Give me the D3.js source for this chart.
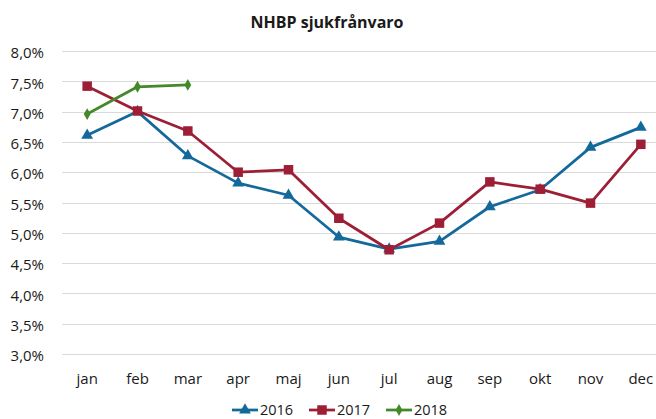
<!DOCTYPE html>
<html>
<head>
<meta charset="utf-8">
<script src="https://cdn.jsdelivr.net/npm/d3@7"></script>
<style>
body { margin: 0; background: #fff; }
text { font-family: "Open Sans", "Noto Sans", sans-serif; fill: #1a1a1a; }
</style>
</head>
<body>
<svg id="chart" width="656" height="419"></svg>
<script>
// data
const months = ["jan", "feb", "mar", "apr", "maj", "jun", "jul", "aug", "sep", "okt", "nov", "dec"];
const v2016 = [6.61, 7.00, 6.27, 5.82, 5.62, 4.93, 4.73, 4.86, 5.43, 5.71, 6.41, 6.74];
const v2017 = [7.42, 7.01, 6.68, 6.00, 6.04, 5.24, 4.72, 5.16, 5.84, 5.72, 5.49, 6.46];
const v2018 = [6.96, 7.41, 7.44];
const yTicks = [3.0, 3.5, 4.0, 4.5, 5.0, 5.5, 6.0, 6.5, 7.0, 7.5, 8.0];

const series = [
	{ name: "2016", values: v2016, color: "#14699b", marker: "triangle" },
	{ name: "2017", values: v2017, color: "#9c1f36", marker: "square" },
	{ name: "2018", values: v2018, color: "#43892a", marker: "diamond" }
];

const svg = d3.select("#chart");

const x = d3.scaleBand()
	.domain(months)
	.range([62, 666]);

const y = d3.scaleLinear()
	.domain([3, 8])
	.range([354, 51]);

// gridlines
svg.append("g")
	.selectAll("line")
	.data(yTicks)
	.enter()
	.append("line")
	.attr("x1", 62)
	.attr("x2", 666)
	.attr("y1", d => Math.round(y(d)) + 0.5)
	.attr("y2", d => Math.round(y(d)) + 0.5)
	.attr("stroke", "#d9d9d9")
	.attr("stroke-width", 1);

// y axis labels
const fmt = d => d.toFixed(1).replace(".", ",") + "%";
const yAxis = svg.append("g")
	.attr("transform", "translate(62,0)")
	.call(d3.axisLeft(y).tickValues(yTicks).tickFormat(fmt).tickSize(0).tickPadding(18));
yAxis.select(".domain").remove();
yAxis.selectAll("text")
	.attr("font-size", 15)
	.attr("dy", "0.45em")
	.style("font-family", "'Open Sans', 'Noto Sans', sans-serif")
	.attr("fill", "#1a1a1a");

// x axis labels
const xAxis = svg.append("g")
	.attr("transform", "translate(0,354)")
	.call(d3.axisBottom(x).tickSize(0).tickPadding(19));
xAxis.select(".domain").remove();
xAxis.selectAll("text")
	.attr("font-size", 15)
	.style("font-family", "'Open Sans', 'Noto Sans', sans-serif")
	.attr("fill", "#1a1a1a");

// title
svg.append("text")
	.attr("x", 327)
	.attr("y", 28)
	.attr("text-anchor", "middle")
	.attr("font-size", 16)
	.attr("font-weight", "bold")
	.text("NHBP sjukfrånvaro");

const cx = (d, i) => x(months[i]) + x.bandwidth() / 2;

const markerPath = {
	triangle: d3.symbol(d3.symbolTriangle, 60),
	square: d3.symbol(d3.symbolSquare, 90),
	diamond: d3.symbol(d3.symbolDiamond, 40)
};

const line = d3.line()
	.x(cx)
	.y(d => y(d));

series.forEach(s => {
	const g = svg.append("g");
	g.append("path")
		.datum(s.values)
		.attr("fill", "none")
		.attr("stroke", s.color)
		.attr("stroke-width", 2.75)
		.attr("stroke-linejoin", "round")
		.attr("d", line);
	g.selectAll(".pt")
		.data(s.values)
		.enter()
		.append("path")
		.attr("transform", (d, i) => "translate(" + cx(d, i) + "," + y(d) + ")")
		.attr("d", markerPath[s.marker]())
		.attr("fill", s.color);
});

// legend
const legendX = [232, 309, 386];
series.forEach((s, i) => {
	const g = svg.append("g").attr("transform", "translate(" + legendX[i] + ",410)");
	g.append("line")
		.attr("x1", 0)
		.attr("x2", 26)
		.attr("stroke", s.color)
		.attr("stroke-width", 2.75);
	g.append("path")
		.attr("transform", "translate(13,0)")
		.attr("d", markerPath[s.marker]())
		.attr("fill", s.color);
	g.append("text")
		.attr("x", 28)
		.attr("y", 4.5)
		.attr("font-size", 14.5)
		.text(s.name);
});
</script>
</body>
</html>
